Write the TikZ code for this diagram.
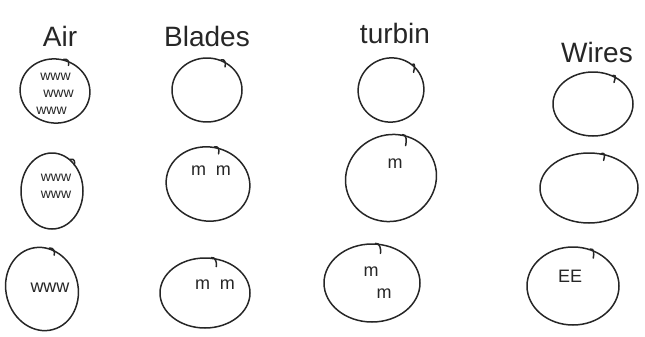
\documentclass[tikz,border=0pt]{standalone}
\usepackage{fontspec}
\setmainfont{Liberation Sans}
\usetikzlibrary{shapes.geometric}
\begin{document}
\begin{tikzpicture}[x=1pt,y=-1pt,
  hand/.style={line width=1.5pt, line cap=round, line join=round, black!85},
  ell/.style={hand, draw, ellipse, inner sep=0pt},
  title/.style={font=\fontsize{28}{30}\selectfont, text=black!85},
  inner/.style={font=\fontsize{18}{20}\selectfont, text=black!85, inner sep=0pt},
  stack/.style={font=\fontsize{14}{17}\selectfont, text=black!85, inner sep=0pt, align=left},
  hookstyle/.style={hand}
]
\useasboundingbox (0,0) rectangle (645,337);
% titles
\node[title] (tAir) at (60,36) {Air};
\node[title] (tBlades) at (207,36) {Blades};
\node[title] (tTurbin) at (395,33) {turbin};
\node[title] (tWires) at (597,52) {Wires};
% Air column
\node[ell, minimum width=70pt, minimum height=64pt, rotate=-10] (a1) at (55,91) {};
\node[ell, minimum width=62pt, minimum height=76pt] (a2) at (52,191) {};
\node[ell, minimum width=72pt, minimum height=84pt, rotate=15] (a3) at (42,289) {};
% Blades column
\node[ell, minimum width=70pt, minimum height=64pt] (b1) at (207,90) {};
\node[ell, minimum width=84pt, minimum height=74pt, rotate=-10] (b2) at (208,184) {};
\node[ell, minimum width=90pt, minimum height=70pt] (b3) at (205,293) {};
% turbin column
\node[ell, minimum width=66pt, minimum height=64pt, rotate=20] (c1) at (391,90) {};
\node[ell, minimum width=92pt, minimum height=86pt, rotate=25] (c2) at (391,178) {};
\node[ell, minimum width=96pt, minimum height=78pt] (c3) at (372,283) {};
% Wires column
\node[ell, minimum width=80pt, minimum height=64pt] (d1) at (593,104) {};
\node[ell, minimum width=98pt, minimum height=70pt] (d2) at (589,188) {};
\node[ell, minimum width=92pt, minimum height=78pt] (d3) at (573,286) {};
% hooks (stroke overlaps curling inward)
\draw[hookstyle] (a1.85) .. controls +(4,-1) and +(1,-4) .. +(5,6);
\draw[hookstyle] (a2.60) .. controls +(4,-1) and +(1,-4) .. +(4,6);
\draw[hookstyle] (a3.65) .. controls +(4,-1) and +(1,-4) .. +(5,7);
\draw[hookstyle] (b1.65) .. controls +(4,-1) and +(1,-4) .. +(4,7);
\draw[hookstyle] (b2.90) .. controls +(4,-1) and +(1,-4) .. +(4,7);
\draw[hookstyle] (b3.80) .. controls +(4,-1) and +(1,-4) .. +(5,9);
\draw[hookstyle] (c1.30) .. controls +(3,-2) and +(1,-4) .. +(1,8);
\draw[hookstyle] (c2.50) .. controls +(4,-1) and +(1,-4) .. +(3,11);
\draw[hookstyle] (c3.85) .. controls +(4,-1) and +(1,-4) .. +(5,10);
\draw[hookstyle] (d1.55) .. controls +(4,-1) and +(1,-4) .. +(1,7);
\draw[hookstyle] (d2.70) .. controls +(4,-1) and +(1,-4) .. +(2,7);
\draw[hookstyle] (d3.65) .. controls +(4,-1) and +(1,-4) .. +(3,9);
% inner texts
\node[stack] (a1t) at (55,94) {\hspace{4pt}www\\\hspace{7pt}www\\www};
\node[stack] (a2t) at (56,186) {www\\www};
\node[inner] (a3l1) at (50,288) {www};
\node[inner] (b2l) at (211,171) {m\hspace{10pt}m};
\node[inner] (b3l) at (215,285) {m\hspace{10pt}m};
\node[inner] (c2l) at (395,164) {m};
\node[inner] (c3l1) at (371,272) {m};
\node[inner] (c3l2) at (384,294) {m};
\node[inner] (d3l) at (570,276) {EE};
\end{tikzpicture}
\end{document}
